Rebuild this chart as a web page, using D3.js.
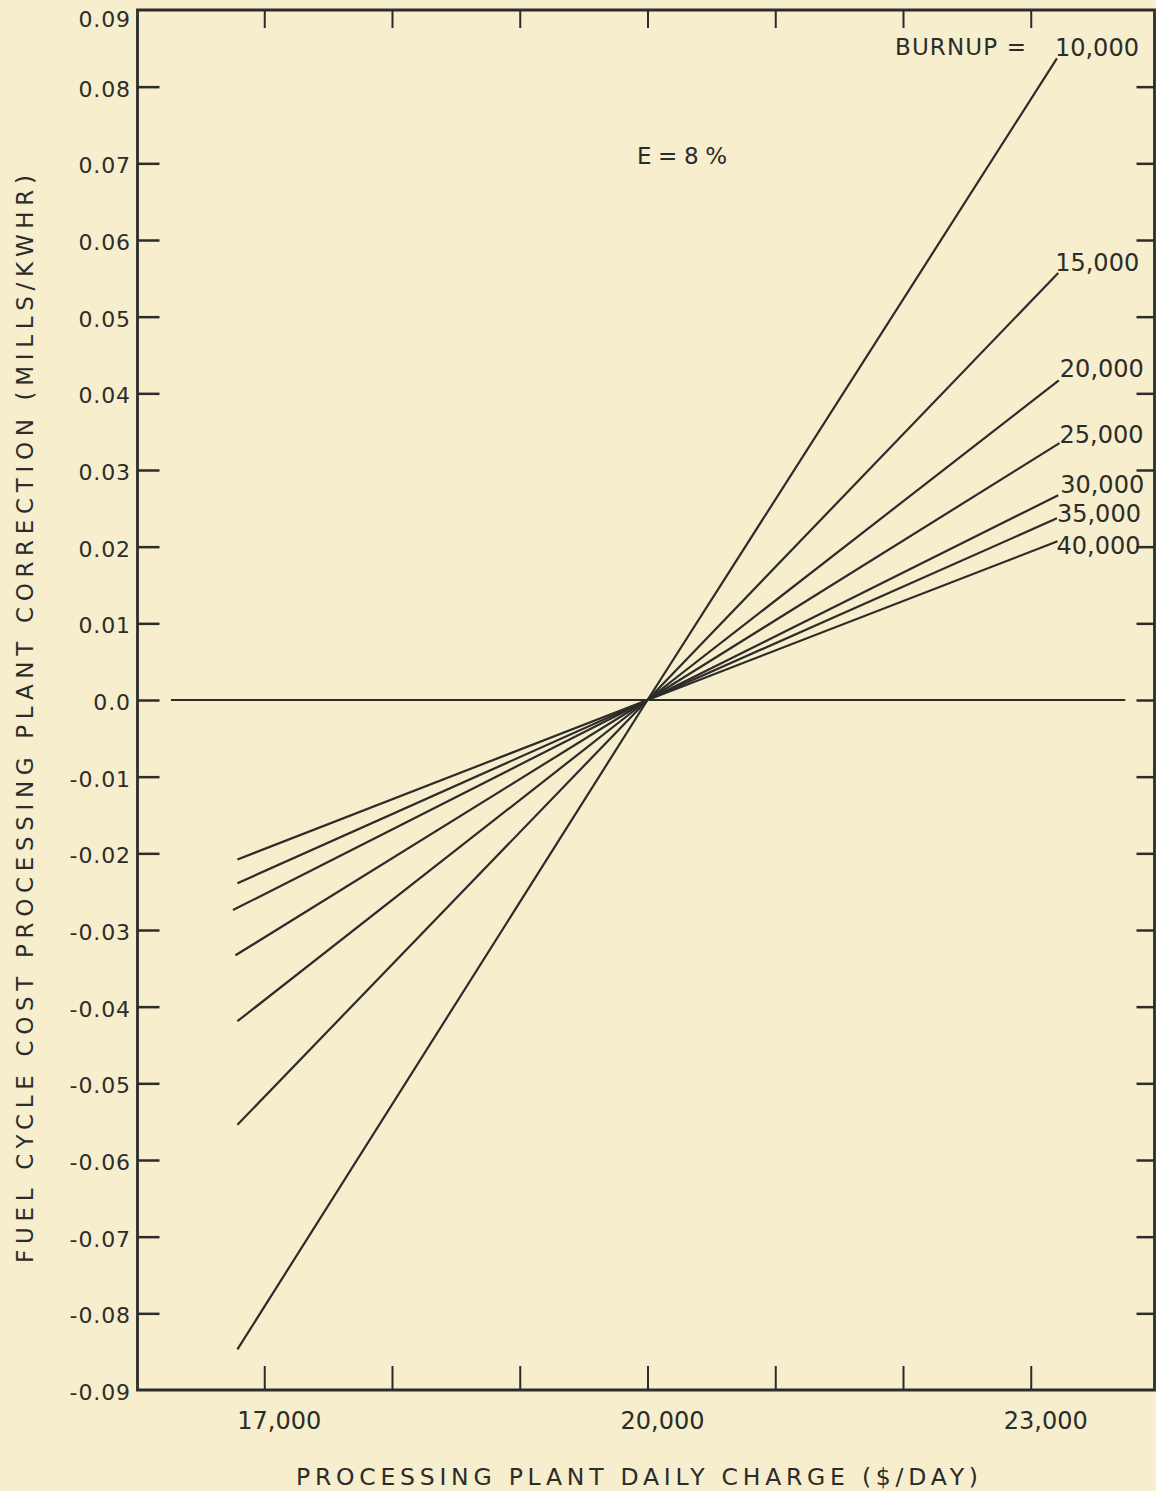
<!DOCTYPE html>
<html>
<head>
<meta charset="utf-8">
<script src="https://cdn.jsdelivr.net/npm/d3@7"></script>
<style>
  html, body { margin: 0; padding: 0; background: #f6eecc; }
  svg { display: block; }
  text { font-family: "DejaVu Sans", "Noto Sans", sans-serif; fill: #2c2c2a; }
</style>
</head>
<body>
<svg id="chart" width="1156" height="1491"></svg>
<script>
// Fuel cycle cost correction vs. processing plant daily charge, one line per burnup
const burnups = ["10,000", "15,000", "20,000", "25,000", "30,000", "35,000", "40,000"];
const startCharge = [16790, 16790, 16790, 16775, 16755, 16790, 16790];
const startCorrection = [-0.0847, -0.0554, -0.0419, -0.0333, -0.0274, -0.0239, -0.0208];
const pivotCharge = 20000;
const pivotCorrection = 0.0;
const endCharge = [23205, 23215, 23220, 23225, 23215, 23205, 23210];
const endCorrection = [0.0837, 0.0557, 0.0417, 0.0335, 0.0267, 0.0237, 0.0207];

const yTicks = [-0.08, -0.07, -0.06, -0.05, -0.04, -0.03, -0.02, -0.01, 0.0,
                0.01, 0.02, 0.03, 0.04, 0.05, 0.06, 0.07, 0.08];
const yLabelTicks = [-0.09, -0.08, -0.07, -0.06, -0.05, -0.04, -0.03, -0.02, -0.01, 0.0,
                     0.01, 0.02, 0.03, 0.04, 0.05, 0.06, 0.07, 0.08, 0.09];
const xTicks = [17000, 18000, 19000, 20000, 21000, 22000, 23000];
const xLabelTicks = [17000, 20000, 23000];
const zeroLineRange = [16270, 23740];

const xTitle = "PROCESSING PLANT DAILY CHARGE ($/DAY)";
const yTitle = "FUEL CYCLE COST PROCESSING PLANT CORRECTION (MILLS/KWHR)";
const burnupPrefix = "BURNUP =";
const noteText = "E = 8 %";

const ink = "#2c2c2a";
const svg = d3.select("#chart");
const W = 1156;

const x = d3.scaleLinear().domain([16000, 24000]).range([136.5, 1158.5]);
const y = d3.scaleLinear().domain([-0.09, 0.09]).range([1390, 10]);

const frameLeft = 137.5, frameRight = W - 1.5, frameTop = y(0.09), frameBottom = y(-0.09);

// frame
svg.append("path")
  .attr("d", `M${frameLeft},${frameTop}H${frameRight}V${frameBottom}H${frameLeft}Z`)
  .attr("fill", "none").attr("stroke", ink).attr("stroke-width", 2.8);

// inward ticks on all four sides
const leftAxis = d3.axisLeft(y).tickValues(yTicks).tickSizeInner(-22).tickSizeOuter(0).tickFormat("");
svg.append("g").attr("transform", `translate(${frameLeft},0)`).call(leftAxis)
  .call(g => g.select(".domain").remove())
  .call(g => g.selectAll("line").attr("stroke", ink).attr("stroke-width", 2.5));

const rightAxis = d3.axisRight(y).tickValues(yTicks).tickSizeInner(-18).tickSizeOuter(0).tickFormat("");
svg.append("g").attr("transform", `translate(${frameRight},0)`).call(rightAxis)
  .call(g => g.select(".domain").remove())
  .call(g => g.selectAll("line").attr("stroke", ink).attr("stroke-width", 2.5));

const topAxis = d3.axisTop(x).tickValues(xTicks).tickSizeInner(-18).tickSizeOuter(0).tickFormat("");
svg.append("g").attr("transform", `translate(0,${frameTop})`).call(topAxis)
  .call(g => g.select(".domain").remove())
  .call(g => g.selectAll("line").attr("stroke", ink).attr("stroke-width", 2));

const bottomAxis = d3.axisBottom(x).tickValues(xTicks).tickSizeInner(-24).tickSizeOuter(0).tickFormat("");
svg.append("g").attr("transform", `translate(0,${frameBottom})`).call(bottomAxis)
  .call(g => g.select(".domain").remove())
  .call(g => g.selectAll("line").attr("stroke", ink).attr("stroke-width", 2));

// y tick labels (the topmost one sits just inside the page edge)
const fmtY = d => d === 0 ? "0.0" : (d < 0 ? "-" : "") + d3.format(".2f")(Math.abs(d));
svg.append("g").selectAll("text").data(yLabelTicks).join("text")
  .attr("x", 131).attr("y", d => Math.max(y(d) + 2, 19)).attr("dy", "0.36em")
  .attr("text-anchor", "end")
  .attr("font-size", 22).attr("letter-spacing", 0.9)
  .text(fmtY);

// x tick labels
const fmtX = d3.format(",");
svg.append("g").selectAll("text").data(xLabelTicks).join("text")
  .attr("x", d => x(d) + 15).attr("y", 1429)
  .attr("text-anchor", "middle")
  .attr("font-size", 24)
  .text(fmtX);

// axis titles
svg.append("text")
  .attr("x", 296).attr("y", 1485)
  .attr("font-size", 23.5)
  .attr("textLength", 682).attr("lengthAdjust", "spacing")
  .text(xTitle);

svg.append("text")
  .attr("transform", "translate(33,1263) rotate(-90)")
  .attr("x", 0).attr("y", 0)
  .attr("font-size", 23)
  .attr("textLength", 1088).attr("lengthAdjust", "spacing")
  .text(yTitle);

// zero reference line
svg.append("line")
  .attr("x1", x(zeroLineRange[0])).attr("x2", x(zeroLineRange[1]))
  .attr("y1", y(0)).attr("y2", y(0))
  .attr("stroke", ink).attr("stroke-width", 2);

// burnup lines, all pivoting through the base charge
const series = burnups.map((b, i) => ({
  burnup: b,
  pts: [[startCharge[i], startCorrection[i]],
        [pivotCharge, pivotCorrection],
        [endCharge[i], endCorrection[i]]]
}));
const line = d3.line().x(d => x(d[0])).y(d => y(d[1]));
svg.append("g").selectAll("path").data(series).join("path")
  .attr("d", d => line(d.pts))
  .attr("fill", "none").attr("stroke", ink).attr("stroke-width", 2.2)
  .attr("stroke-linejoin", "round");

// burnup labels at the right ends of the lines
const labelDx = [-2, -3, 1, 0, 2, 0, -1];
const labelDy = [-2, -2, -3, 0, -2, 4, 13];
svg.append("g").selectAll("text").data(series).join("text")
  .attr("x", (d, i) => x(endCharge[i]) + labelDx[i])
  .attr("y", (d, i) => y(endCorrection[i]) + labelDy[i])
  .attr("font-size", 24)
  .text(d => d.burnup);

svg.append("text")
  .attr("x", 895).attr("y", 55)
  .attr("font-size", 23)
  .attr("textLength", 131).attr("lengthAdjust", "spacing")
  .text(burnupPrefix);

svg.append("text")
  .attr("x", 637).attr("y", 164)
  .attr("font-size", 23)
  .attr("textLength", 90).attr("lengthAdjust", "spacing")
  .text(noteText);
</script>
</body>
</html>
